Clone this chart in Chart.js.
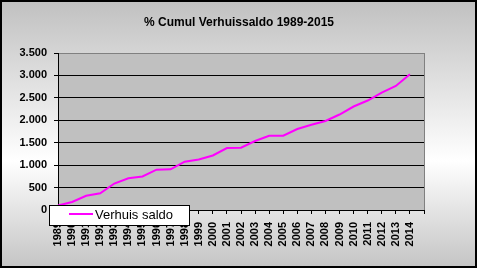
<!DOCTYPE html>
<html>
<head>
<meta charset="utf-8">
<script src="https://cdn.jsdelivr.net/npm/chart.js"></script>
<style>
body{margin:0;background:#fff;}
#caja{width:478px;height:270px;}
</style>
</head>
<body>
<div id="caja"><canvas id="grafico" width="478" height="270"></canvas></div>
<script>
// datos
const titulo = '% Cumul Verhuissaldo 1989-2015';
const serie = 'Verhuis saldo';
const anios = ['1989','1990','1991','1992','1993','1994','1995','1996','1997','1998','1999','2000','2001',
    '2002','2003','2004','2005','2006','2007','2008','2009','2010','2011','2012','2013','2014'];
const saldo = [100, 180, 316, 372, 590, 707, 747, 900, 907, 1077, 1126, 1215, 1382,
    1389, 1538, 1656, 1656, 1805, 1899, 1984, 2129, 2307, 2441, 2619, 2764, 3025];
const ejeY = {min: 0, max: 3500, paso: 500};

Chart.defaults.font.family = 'Arial, "Liberation Sans", sans-serif';
Chart.defaults.color = '#000';

// eje x con una casilla vacia al final (2015)
let etiquetas = anios.concat(['']);

function formatoMiles(v){
    return v.toString().replace(/\B(?=(\d{3})+(?!\d))/g, '.');
}

const fondo = {
    id: 'fondo',
    beforeDraw(chart){
        const c = chart.ctx;
        const a = chart.chartArea;
        c.save();
        c.fillStyle = '#fff';
        c.fillRect(0, 0, chart.width, chart.height);
        let g = c.createLinearGradient(0, 0, 0, 268);
        g.addColorStop(0, '#c0c0c0');
        g.addColorStop(0.6, '#ffffff');
        g.addColorStop(1, '#c4c4c4');
        c.fillStyle = g;
        c.fillRect(0, 0, 477, 268);
        c.strokeStyle = '#000';
        c.lineWidth = 2;
        c.strokeRect(1, 1, 475, 266);
        c.fillStyle = '#c0c0c0';
        c.fillRect(a.left, a.top, a.right - a.left, a.bottom - a.top);
        c.restore();
    },
    beforeDatasetsDraw(chart){
        const c = chart.ctx;
        const a = chart.chartArea;
        c.save();
        c.strokeStyle = '#808080';
        c.lineWidth = 1;
        c.beginPath();
        c.moveTo(Math.round(a.right) + 0.5, a.top);
        c.lineTo(Math.round(a.right) + 0.5, a.bottom);
        c.stroke();
        c.restore();
    }
};

// leyenda encima del eje, como en el original
const leyenda = {
    id: 'leyenda',
    afterDraw(chart){
        const c = chart.ctx;
        const ds = chart.data.datasets[0];
        c.save();
        c.fillStyle = '#fff';
        c.fillRect(49.5, 205.5, 140, 20);
        c.strokeStyle = '#000';
        c.lineWidth = 1;
        c.strokeRect(49.5, 205.5, 140, 20);
        c.strokeStyle = ds.borderColor;
        c.lineWidth = 2;
        c.beginPath();
        c.moveTo(69, 214);
        c.lineTo(93, 214);
        c.stroke();
        c.fillStyle = '#000';
        c.font = '13px Arial, "Liberation Sans", sans-serif';
        c.textBaseline = 'middle';
        c.fillText(ds.label, 95, 215);
        c.restore();
    }
};

function graficos(){
    const ctx = document.getElementById('grafico');
    const miGrafico = new Chart(ctx, {
        type: 'line',
        data: {
            labels: etiquetas,
            datasets: [{
                label: serie,
                data: saldo,
                borderColor: '#ff00ff',
                backgroundColor: '#ff00ff',
                borderWidth: 2,
                pointRadius: 0,
                tension: 0,
                fill: false
            }]
        },
        options: {
            responsive: false,
            animation: false,
            layout: {padding: 0},
            plugins: {
                legend: {display: false},
                tooltip: {enabled: false},
                title: {
                    display: true,
                    text: titulo,
                    color: '#000',
                    font: {size: 12, weight: 'bold'},
                    padding: {top: 15, bottom: 23.6}
                }
            },
            scales: {
                x: {
                    type: 'category',
                    offset: false,
                    afterFit: function(scale){ scale.height = 60; },
                    grid: {drawOnChartArea: false, drawTicks: true, tickLength: 4, color: '#000'},
                    border: {color: '#000', width: 1},
                    ticks: {
                        autoSkip: false,
                        minRotation: 90,
                        maxRotation: 90,
                        padding: 8,
                        color: '#000',
                        font: {size: 11, weight: 'bold'}
                    }
                },
                y: {
                    min: ejeY.min,
                    max: ejeY.max,
                    afterFit: function(scale){ scale.width = 58; },
                    grid: {
                        color: function(c){ return c.tick && c.tick.value === ejeY.max ? '#808080' : '#000'; },
                        tickColor: '#000',
                        tickLength: 4,
                        lineWidth: 1
                    },
                    border: {color: '#000', width: 1},
                    ticks: {
                        stepSize: ejeY.paso,
                        padding: 7,
                        color: '#000',
                        font: {size: 11, weight: 'bold'},
                        callback: function(v){ return formatoMiles(v); }
                    }
                },
                // eje vacio a la derecha, solo para dejar el margen
                margen: {
                    type: 'linear',
                    position: 'right',
                    afterFit: function(scale){ scale.width = 54; },
                    grid: {display: false},
                    border: {display: false},
                    ticks: {display: false}
                }
            }
        },
        plugins: [fondo, leyenda]
    });
}

graficos();
</script>
</body>
</html>
